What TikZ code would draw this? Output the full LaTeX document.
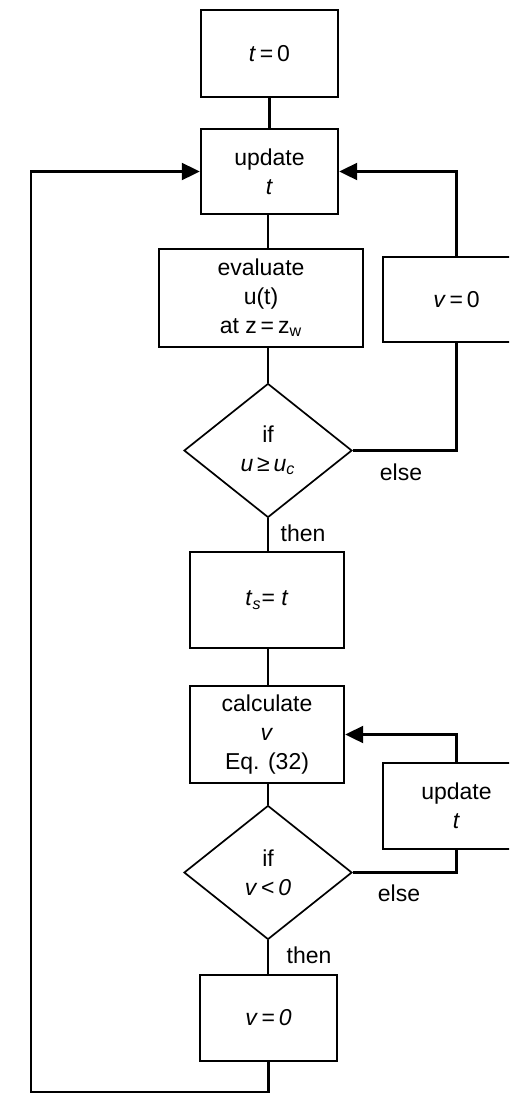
\documentclass[tikz,border=0pt]{standalone}
\usepackage{fontspec}
\setmainfont{Liberation Sans}
\usetikzlibrary{shapes.geometric,arrows.meta}

\begin{document}
\begin{tikzpicture}[x=0.5pt,y=-0.5pt,
		every node/.style={font=\fontsize{11.5}{14.3}\selectfont, align=center},
		box/.style={draw, line width=1.2pt, inner sep=0pt},
		decision/.style={draw, diamond, line width=0.85pt, inner sep=0pt, minimum width=84pt, minimum height=67pt},
		link/.style={line width=1.05pt},
		arr/.style={line width=1.05pt, -{Triangle[length=9pt,width=8.5pt]}}]
		\useasboundingbox (0,0) rectangle (509,1093);
		\clip (0,0) rectangle (509,1093);

		\node[box, minimum width=68.5pt, minimum height=43.5pt] (t0) at (269.5,53.5) {\textit{t}\,=\,0};
		\node[box, minimum width=68.5pt, minimum height=42.5pt] (upd1) at (269.5,171.5) {update\\\textit{t}};
		\node[box, minimum width=102pt, minimum height=49pt] (eval) at (261,298) {evaluate\\u(t)\\at z\,=\,z\textsubscript{w}};
		\node[box, minimum width=73.5pt, minimum height=42.5pt] (v0) at (456.5,299.5) {\textit{v}\,=\,0};
		\node[decision] (dia1) at (268,450.5) {if\\\textit{u}\,≥\,\textit{u}\textsubscript{\textit{c}}};
		\node (else1) at (401,472) {else};
		\node (then1) at (303,533) {then};
		\node[box, minimum width=77pt, minimum height=48pt] (ts) at (267,600) {\textit{t}\textsubscript{\textit{s}}= \textit{t}};
		\node[box, minimum width=77pt, minimum height=48.5pt] (calc) at (267,734.5) {calculate\\\textit{v}\\Eq. (32)};
		\node[box, minimum width=73.5pt, minimum height=43pt] (upd2) at (456.5,806) {update\\\textit{t}};
		\node[decision] (dia2) at (268,872.5) {if\\\textit{v}\,<\,\textit{0}};
		\node (else2) at (399,893) {else};
		\node (then2) at (309,955) {then};
		\node[box, minimum width=68.5pt, minimum height=43pt] (v0b) at (268.5,1018) {\textit{v}\,=\,\textit{0}};
		\coordinate (bl) at (31,1092);

		\draw[link] (t0) -- (upd1);
		\draw[link] (dia1.north |- upd1.south) -- (dia1.north |- eval.north);
		\draw[link] (dia1.north |- eval.south) -- (dia1.north);
		\draw[link] (dia1.east) -| (v0.south);
		\draw[arr] (v0.north) |- (upd1.east);
		\draw[link] (dia1.south) -- (dia1.south |- ts.north);
		\draw[link] (dia2.north |- ts.south) -- (dia2.north |- calc.north);
		\draw[link] (dia2.north |- calc.south) -- (dia2.north);
		\draw[link] (dia2.east) -| (upd2.south);
		\draw[arr] (upd2.north) |- (calc.east);
		\draw[link] (dia2.south) -- (dia2.south |- v0b.north);
		\draw[arr] (v0b.south) |- (bl) |- (upd1.west);
	\end{tikzpicture}
\end{document}
